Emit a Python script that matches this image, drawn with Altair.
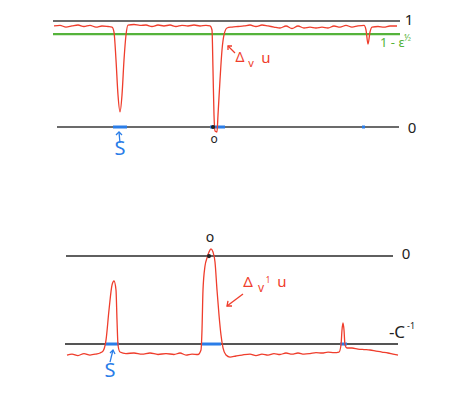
import altair as alt
import pandas as pd

# ---------------- data ----------------
# top panel: Δ_v u  (levels 1, 1-ε^½, 0)
top_x = [54, 60, 66, 72, 78, 84, 90, 96, 102, 108, 112, 114, 116, 118, 120, 122, 124, 126, 128,
         134, 140, 146, 152, 158, 164, 170, 176, 182, 188, 194, 200, 206, 210, 212, 213, 214, 215,
         217, 218, 220, 222, 224, 227, 232, 238, 244, 250, 256, 262, 268, 274, 280, 286, 292, 298,
         304, 310, 316, 322, 328, 334, 340, 346, 352, 358, 364, 366, 368, 370, 372, 378, 384, 390, 397]
top_y = [.953, .958, .943, .953, .962, .948, .958, .943, .953, .948, .943, .896, .632, .302, .142,
         .302, .632, .868, .962, .967, .958, .962, .948, .962, .953, .962, .948, .958, .953, .962,
         .953, .958, .953, .915, .538, .113, -.038, -.047, .113, .443, .726, .868, .934, .943, .948,
         .953, .962, .948, .962, .953, .943, .934, .953, .929, .953, .934, .943, .934, .943, .934,
         .953, .943, .958, .943, .953, .958, .915, .783, .896, .943, .948, .943, .953, .953]

# bottom panel: Δ_{v^1} u  (levels 0, -C^-1)
bot_x = [67, 72, 78, 84, 90, 96, 100, 103, 106, 109, 112, 114, 116, 117, 118, 120, 126, 134, 142,
         150, 158, 166, 174, 180, 186, 192, 198, 201, 202, 203, 205, 207, 209, 211, 213, 215, 217,
         219, 221, 223, 226, 230, 236, 242, 250, 256, 262, 268, 274, 280, 286, 292, 298, 304, 310,
         316, 322, 328, 334, 339, 341, 342, 343, 344, 345, 347, 352, 358, 364, 370, 376, 382, 388, 393, 398]
bot_y = [-1.125, -1.114, -1.131, -1.108, -1.125, -1.114, -1.102, -1.080, -0.955, -0.614, -0.330,
         -0.284, -0.386, -0.727, -1.011, -1.091, -1.108, -1.102, -1.114, -1.102, -1.119, -1.108,
         -1.119, -1.102, -1.125, -1.114, -1.119, -1.068, -0.841, -0.386, -0.114, -0.023, 0.045,
         0.080, 0.045, -0.068, -0.386, -0.670, -0.898, -1.045, -1.125, -1.148, -1.136, -1.125,
         -1.114, -1.131, -1.114, -1.125, -1.108, -1.119, -1.102, -1.114, -1.102, -1.114, -1.108,
         -1.097, -1.102, -1.091, -1.097, -1.091, -1.011, -0.841, -0.761, -0.841, -1.011, -1.045,
         -1.045, -1.057, -1.063, -1.068, -1.080, -1.091, -1.102, -1.114, -1.125]

top_levels = [1.0, 0.877, 0.0]
top_level_x0 = [53, 53, 57]
top_level_x1 = [400, 400, 399]
top_level_colors = ["#3a3a3a", "#55b33b", "#3a3a3a"]
top_level_widths = [1.7, 2.2, 1.7]

bot_levels = [0.0, -1.0]
bot_level_x0 = [66, 65]
bot_level_x1 = [393, 398]
bot_level_colors = ["#2a2a2a", "#555555"]
bot_level_widths = [1.6, 2.2]

top_set_x0 = [113, 210, 362]
top_set_x1 = [127, 225, 365]
bot_set_x0 = [105, 202, 340]
bot_set_x1 = [119, 221, 347]

top_dot = [(213, 0.0)]
bot_dot = [(209, 0.0)]

RED = "#ef3d2c"
GREEN = "#55b33b"
BLUE = "#2a7de8"
BLACK = "#222222"

# (x, y, text, colour, font size, align)
top_texts = [
    (409, 1.005, "1", BLACK, 15, "center"),
    (412, -0.009, "0", BLACK, 15, "center"),
    (380, 0.788, "1 - ε", GREEN, 13, "left"),
    (404, 0.838, "½", GREEN, 9, "left"),
    (240, 0.651, "Δ", RED, 14, "center"),
    (251, 0.594, "v", RED, 11, "center"),
    (266, 0.651, "u", RED, 15, "center"),
    (120, -0.208, "S", BLUE, 20, "center"),
    (214, -0.113, "o", BLACK, 12, "center"),
]
bot_texts = [
    (406, 0.023, "0", BLACK, 15, "center"),
    (210, 0.205, "o", BLACK, 14, "center"),
    (397, -0.875, "-C", BLACK, 17, "center"),
    (411, -0.795, "-1", BLACK, 9, "center"),
    (248, -0.295, "Δ", RED, 15, "center"),
    (261, -0.364, "v", RED, 12, "center"),
    (268, -0.284, "1", RED, 8, "center"),
    (282, -0.295, "u", RED, 15, "center"),
    (110, -1.307, "S", BLUE, 20, "center"),
]

# arrows: (group, x, y, color)
top_arrows = [
    ("a", 235, 0.698, RED), ("a", 228, 0.764, RED),
    ("b", 232, 0.764, RED), ("b", 228, 0.764, RED), ("b", 228, 0.726, RED),
    ("c", 120, -0.151, BLUE), ("c", 119, -0.047, BLUE),
    ("d", 116, -0.075, BLUE), ("d", 119, -0.047, BLUE), ("d", 122, -0.075, BLUE),
]
bot_arrows = [
    ("a", 243, -0.432, RED), ("a", 227, -0.568, RED),
    ("b", 232, -0.568, RED), ("b", 227, -0.568, RED), ("b", 228, -0.511, RED),
    ("c", 110, -1.205, BLUE), ("c", 113, -1.068, BLUE),
    ("d", 110, -1.102, BLUE), ("d", 113, -1.068, BLUE), ("d", 115, -1.114, BLUE),
]

X_DOMAIN = [8, 460]
FONT = "Noto Sans"


def panel(cx, cy, lv, lx0, lx1, lcol, lw, sx0, sx1, dots, texts, arrows, ydom, height):
    xs = alt.Scale(domain=X_DOMAIN)
    ys = alt.Scale(domain=ydom)

    def X(f):
        return alt.X(f, type="quantitative", scale=xs, axis=None)

    def Y(f):
        return alt.Y(f, type="quantitative", scale=ys, axis=None)

    lines = pd.DataFrame({"y": lv, "x0": lx0, "x1": lx1, "c": lcol, "w": lw})
    rules = alt.Chart(lines).mark_rule().encode(
        x=X("x0"), x2="x1", y=Y("y"),
        color=alt.Color("c:N", scale=None),
        strokeWidth=alt.StrokeWidth("w:Q", scale=None),
    )

    curve = pd.DataFrame({"x": cx, "y": cy, "i": range(len(cx))})
    line = alt.Chart(curve).mark_line(color=RED, strokeWidth=1.3, interpolate="monotone").encode(
        x=X("x"), y=Y("y"), order="i:Q"
    )

    sets = pd.DataFrame({"x0": sx0, "x1": sx1, "y": [lv[-1]] * len(sx0)})
    blue = alt.Chart(sets).mark_rule(color=BLUE, strokeWidth=3).encode(
        x=X("x0"), x2="x1", y=Y("y")
    )

    dd = pd.DataFrame({"x": [d[0] for d in dots], "y": [d[1] for d in dots]})
    dot = alt.Chart(dd).mark_point(filled=True, color=BLACK, size=18, opacity=1).encode(
        x=X("x"), y=Y("y")
    )

    td = pd.DataFrame(texts, columns=["x", "y", "t", "c", "s", "a"])
    txt_layers = []
    for al in ["center", "left"]:
        sub = td[td["a"] == al]
        if len(sub) == 0:
            continue
        txt_layers.append(
            alt.Chart(sub).mark_text(font=FONT, align=al, baseline="middle").encode(
                x=X("x"), y=Y("y"), text="t:N",
                color=alt.Color("c:N", scale=None),
                size=alt.Size("s:Q", scale=None),
            )
        )

    ad = pd.DataFrame(arrows, columns=["g", "x", "y", "c"])
    ad["i"] = range(len(ad))
    arr = alt.Chart(ad).mark_line(strokeWidth=1.3).encode(
        x=X("x"), y=Y("y"), detail="g:N", order="i:Q",
        color=alt.Color("c:N", scale=None),
    )

    return alt.layer(rules, blue, line, dot, arr, *txt_layers).properties(width=452, height=height)


top = panel(top_x, top_y, top_levels, top_level_x0, top_level_x1, top_level_colors,
            top_level_widths, top_set_x0, top_set_x1, top_dot, top_texts, top_arrows,
            [-0.6698, 1.1226], 190)
bottom = panel(bot_x, bot_y, bot_levels, bot_level_x0, bot_level_x1,
               bot_level_colors, bot_level_widths, bot_set_x0, bot_set_x1, bot_dot,
               bot_texts, bot_arrows, [-1.511, 0.659], 191)

chart = alt.vconcat(top, bottom, spacing=0).properties(
    padding=0, background="white"
).configure_view(stroke=None)

chart.save("out.html", embed_options={"renderer": "svg", "actions": False})
